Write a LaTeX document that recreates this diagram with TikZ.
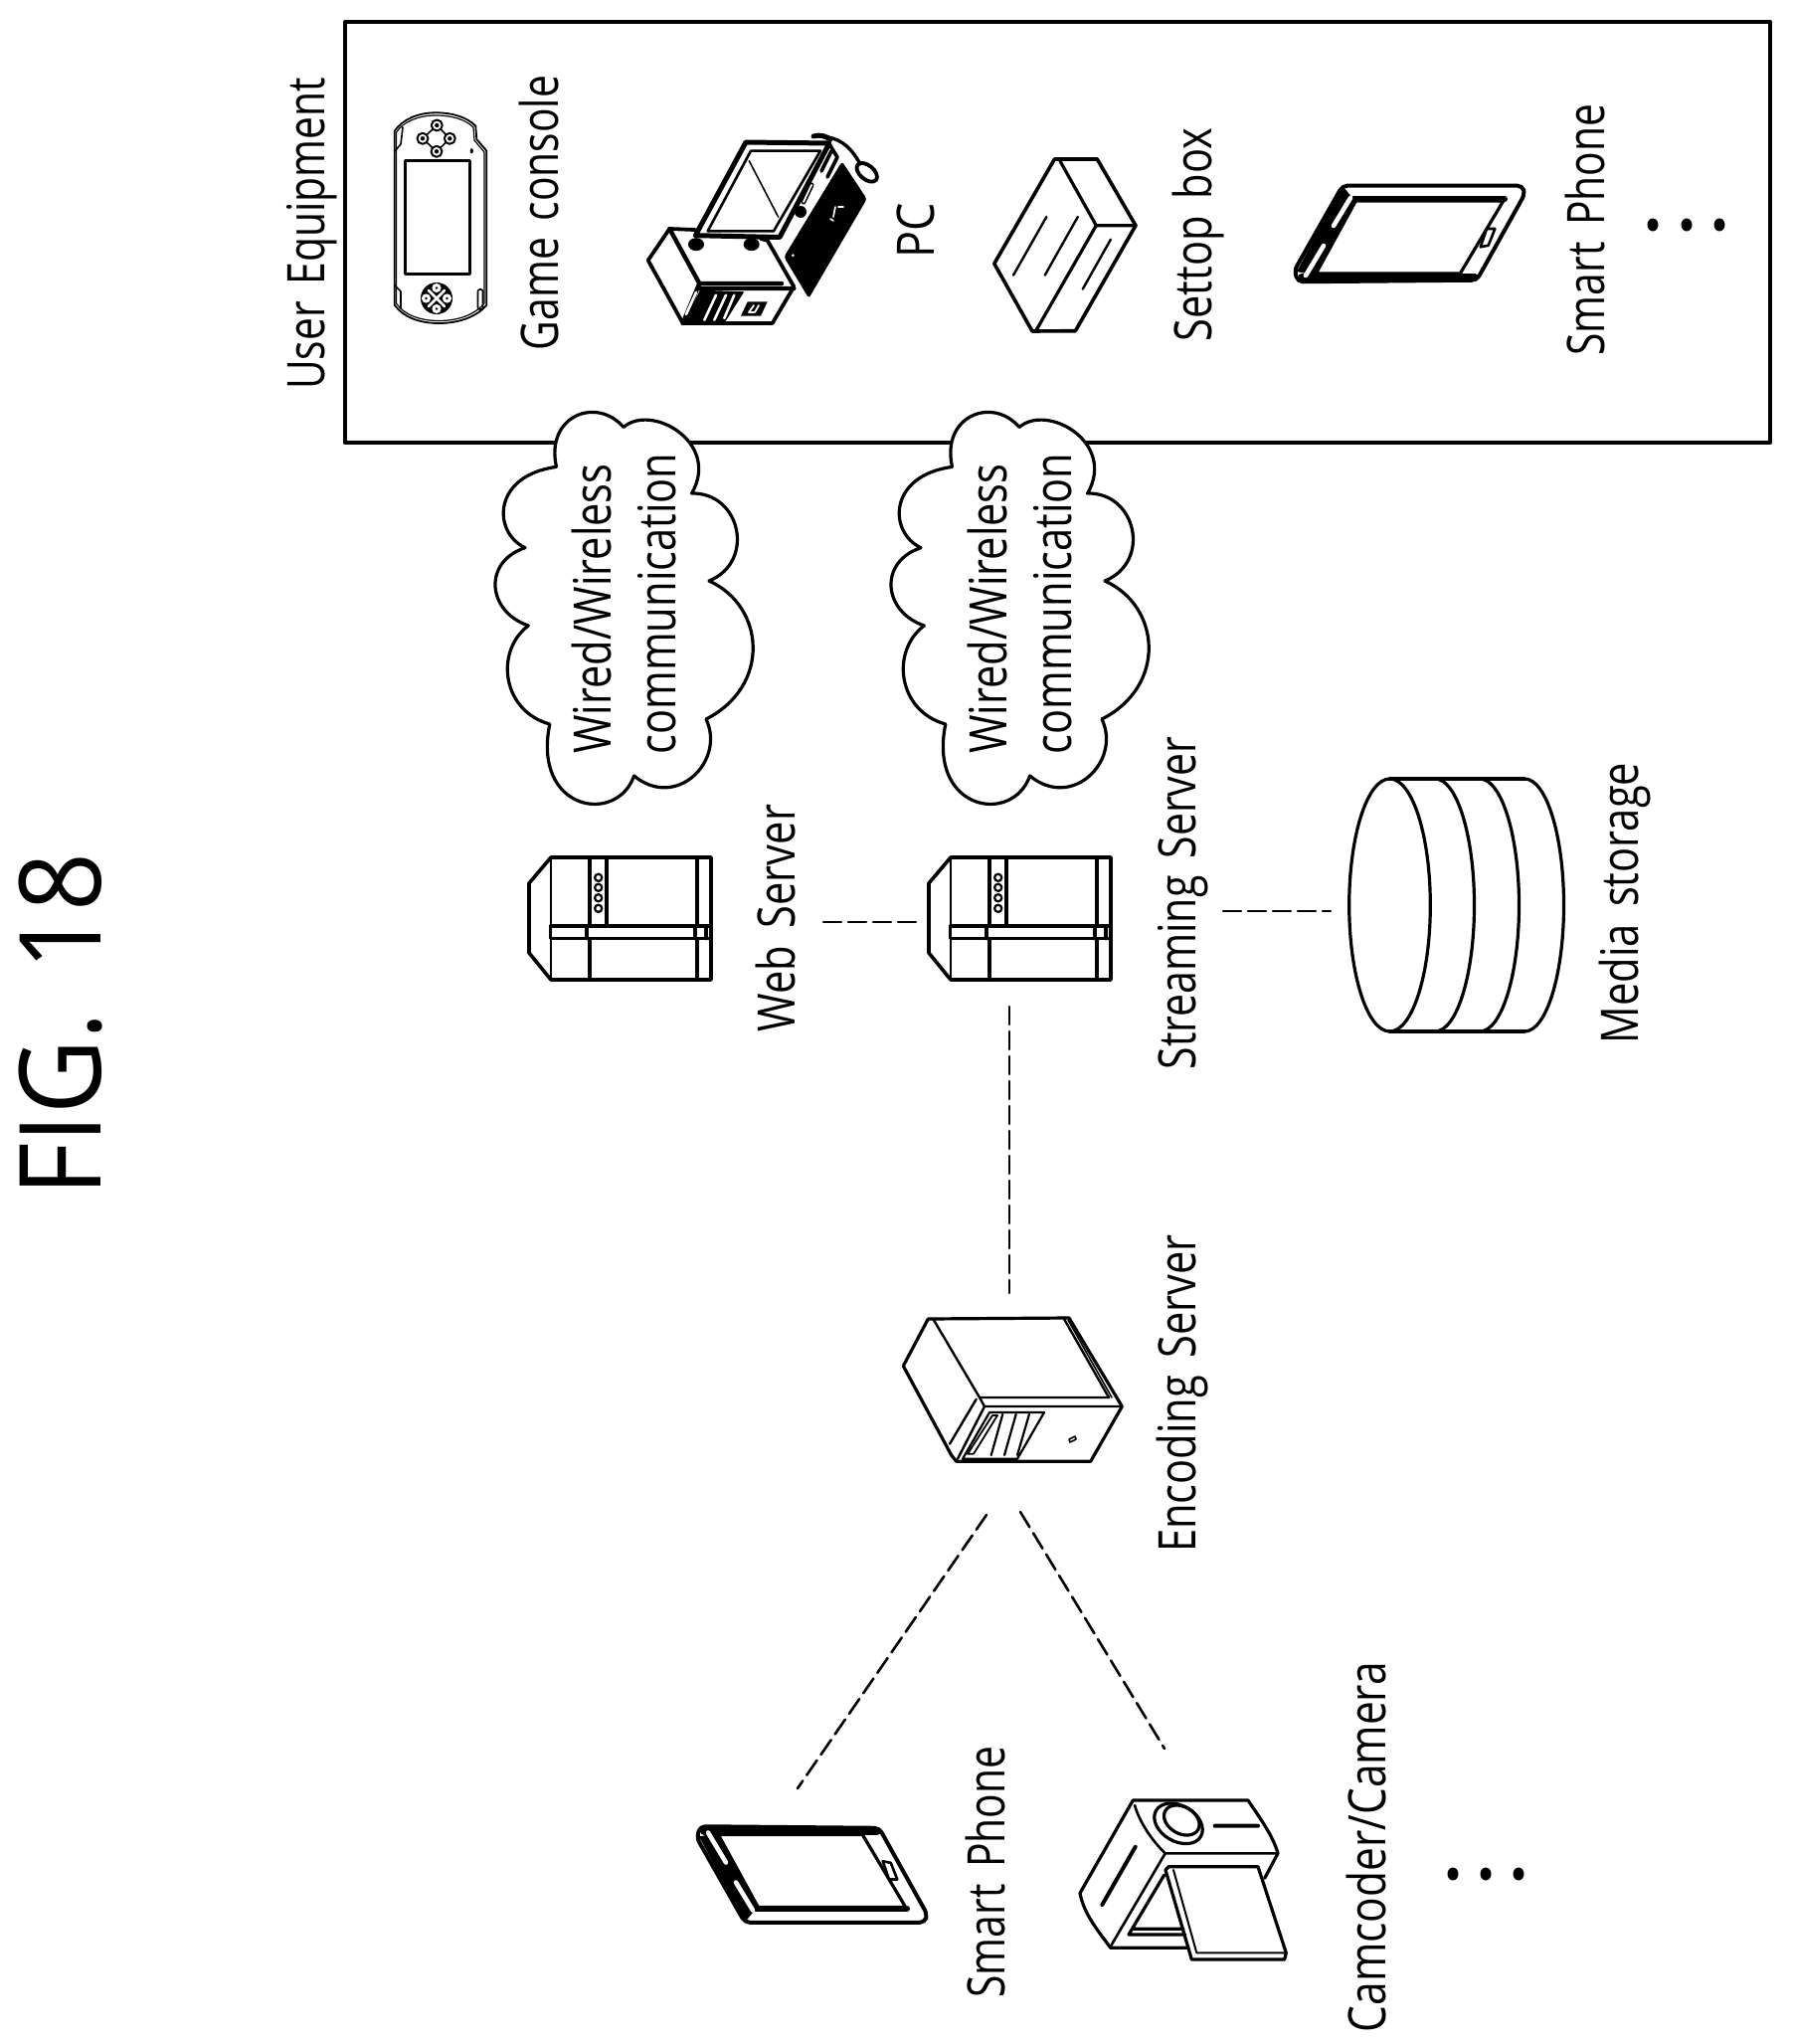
\documentclass[tikz,border=0pt]{standalone}
\usepackage{fontspec}
\setmainfont[FakeStretch=0.8,WordSpace=1.6]{Open Sans}
\usetikzlibrary{positioning}

\newcommand*{\servericon}{
\draw[icon,line width=3.6pt] (22,-65) -- (0,-39) -- (0,31) -- (22,58) -- (183,58) -- (183,-65) -- cycle;
\draw[thin line] (22,-65) -- (22,58);
\draw[icon,line width=4pt] (61,-65) -- (61,58) (169,-65) -- (169,58) (78,-65) -- (78,5);
\draw[icon,line width=3.6pt,fill=white] (21.5,4) rectangle (183,16.5);
\draw[icon,line width=3.6pt] (58,4) -- (58,16.5) (167,4) -- (167,16.5) (178,4) -- (178,16.5);
\foreach \cy in {-44.7,-34.7,-24.3,-13.7}
  \draw[thin line,line width=2.2pt] (69.7,\cy) circle [radius=3.6pt];
}
\newcommand*{\cloudicon}{
\draw[icon,fill=white] (559.5,469.4) .. controls (548,418) and (600,398) .. (627,429.5)
  .. controls (655,405) and (725,445) .. (695.6,496)
  .. controls (745,495) and (760,565) .. (713,584)
  .. controls (770,610) and (775,690) .. (710,723)
  .. controls (730,765) and (680,815) .. (637.6,780)
  .. controls (620,830) and (535,815) .. (552.8,728)
  .. controls (505,715) and (497,655) .. (531.3,629)
  .. controls (490,615) and (485,565) .. (528,550.7)
  .. controls (495,535) and (495,478) .. (559.5,469.4);
}
\newcommand*{\phoneicon}{
\fill (-67,-48) -- (-53.7,-32) -- (-93.7,42) -- (-113,38) -- cycle;
\draw[icon,line width=4pt,rounded corners=5pt] (-67,-48.3) -- (114,-48.3) -- (116.3,-40) -- (68,46.7) -- (-112,48.3) -- (-115.3,36.7) -- cycle;
\draw[icon] (-53.7,-33) -- (94.7,-33) -- (51.3,40) -- (-93.7,40) -- cycle;
\draw[heavy] (-56,-34.5) -- (96,-34.5);
\draw[heavy,line width=8pt] (-108,44) -- (66,44);
\draw[draw=white,line width=4.6pt] (-59,-36) -- (-76,-8) (-86,12) -- (-104,42);
\draw[icon,fill=white,line width=2.6pt] (78,-5) -- (86.3,-5) -- (79.7,11.7) -- (71.7,13.3) -- cycle;
}

\begin{document}
\begin{tikzpicture}[x=1pt,y=-1pt,line cap=round,line join=round]
\tikzstyle{every node}=[rotate=90,anchor=base,inner sep=0pt,font=\fontsize{52}{60}\selectfont]
\tikzstyle{icon}=[draw=black,line width=3.2pt]
\tikzstyle{heavy}=[draw=black,line width=6pt]
\tikzstyle{thin line}=[draw=black,line width=1.6pt]
\tikzstyle{link}=[draw=black,line width=2.6pt,dash pattern=on 18pt off 7pt]
\useasboundingbox (0,0) rectangle (1803,2055);

\node (title) at (101,1030) [xscale=1.13,font=\fontsize{114}{120}\selectfont] {FIG. 18};

\draw[icon,line width=4pt] (347,22) rectangle (1780,445);
\node (user)    at (326,235)  [xscale=.98] {User Equipment};
\node (game)    at (561,214)  [xscale=.98] {Game console};
\node (pc)      at (939,232)  [xscale=1.08] {PC};
\node (settop)  at (1218,236) {Settop box};
\node (phoneA)  at (1613,231) [xscale=.98] {Smart Phone};

\foreach \dx in {1662,1696,1729}
  \fill (\dx,226) circle [x radius=5.5pt,y radius=6.5pt];

\cloudicon
\begin{scope}[xshift=398pt]
\cloudicon
\end{scope}
\node (wiredA) at (614,612)  {Wired/Wireless};
\node (commA)  at (679,607)  {communication};
\node (wiredB) at (1012,612) {Wired/Wireless};
\node (commB)  at (1077,607) {communication};

% game console
\draw[thin line,line width=1.8pt] (396.7,131.7) .. controls (405,120) and (420,113.3) .. (438.3,113.3)
  .. controls (455,113.3) and (470,118) .. (478.3,126.7) -- (479.3,140) -- (489.3,151.7)
  -- (489.3,306.7) .. controls (480,318) and (462,325) .. (441.7,325)
  .. controls (420,325) and (405,318) .. (396.7,306.7) -- cycle;
\draw[thin line,line width=1.2pt] (398.5,133) .. controls (406,122) and (421,116) .. (438.3,116)
  .. controls (454,116) and (468,120) .. (476,128) -- (477,141) -- (487,153)
  -- (487,305) .. controls (478,316) and (461,322.5) .. (441.7,322.5)
  .. controls (421,322.5) and (406,316) .. (398.5,305) -- cycle;
\draw[thin line] (405,128) -- (403,145) -- (397,152) (397,287) -- (403,293) -- (403,310);
\draw[icon,line width=2.8pt] (407.3,161.7) rectangle (472.7,275.7);
\draw[thin line] (439.3,126) -- (452.3,139.3) -- (439,152.3) -- (425,139.3) -- cycle;
\foreach \bx/\by in {439.3/126,439/152.3,425/139.3,452.3/139.3}{
  \draw[thin line,line width=2pt,fill=white] (\bx,\by) circle [radius=5.5pt];
  \fill (\bx,\by) circle [radius=2.2pt];
}
\fill (474.3,151.7) circle [x radius=1.6pt,y radius=2.6pt];
\fill (439,300) circle [radius=16pt];
\foreach \px/\py in {439/289.5,439/310.5,428.5/300,449.5/300}{
  \fill[white] (\px,\py) circle [radius=4.6pt];
  \fill (\px,\py) circle [radius=1.4pt];
}
\draw[draw=white,line width=2.8pt] (431,292) -- (447,308) (447,292) -- (431,308);
\draw[thin line,rounded corners=2pt] (480.5,291) rectangle (485.5,311);

% pc
\draw[icon,line width=5pt] (750,143) -- (834,144) -- (784,238.5) -- (699.3,236.7) -- cycle;
\draw[icon,line width=2.6pt] (755,151.7) -- (825,151.7) -- (778,232.3) -- (711.7,232.3) -- cycle;
\draw[thin line] (753.3,161.7) -- (782.7,218.3);
\draw[icon,line width=3.8pt] (699,231) -- (673.3,230) -- (651.7,261.7) -- (686.7,325) -- (776.7,325) -- (798.3,288.3) -- (771.7,241.7) -- (765,240);
\draw[icon,line width=4.4pt] (673.3,230) -- (703.3,285) -- (786,285) (703.3,290) -- (798.3,290) (703.3,285) -- (686.7,325);
\fill (704,291.7) -- (748.3,293.3) -- (728.3,325) -- (686.7,325) -- cycle;
\draw[draw=white,line width=2.6pt] (720,296.7) -- (708.3,321.7) (730,296.7) -- (718.3,321.7) (738.3,296.7) -- (728.3,320) (700,294) -- (690,316);
\fill (751.7,303.3) -- (771.7,303.3) -- (765,317.7) -- (745,317.7) -- cycle;
\draw[draw=white,line width=1.8pt] (758,307) -- (753,314) -- (758,314) (763,307) -- (759,314);
\fill (700,245.7) circle [x radius=8pt,y radius=6.5pt];
\fill (755.7,245.7) circle [x radius=8pt,y radius=6.5pt];
\fill[rounded corners=3pt] (846.7,162.3) -- (871.7,200) -- (813.3,300) -- (788.3,258.3) -- cycle;
\fill[white] (797.3,256.7) circle [radius=1.5pt];
\draw[draw=white,line width=1.6pt] (843,208) -- (848,208) (840,208) -- (838,218) (835,220) -- (838,222);
\fill (805,213) circle [radius=6pt];
\draw[icon,line width=3.6pt] (834,145) -- (842,158) -- (832,178) (826,172) -- (836,152);
\draw[icon,line width=5pt] (816,186) -- (808,203);
\draw[draw=white,line width=1.8pt] (816,186) -- (808,203);
\draw[icon,line width=5pt] (818,137) .. controls (825,135) and (830,137) .. (835,140);
\draw[icon,line width=3.4pt] (832,138) .. controls (848,140) and (858,152) .. (865,165);
\begin{scope}[shift={(871.7,173.3)},rotate=-40]
\draw[icon,line width=3.8pt] (0,0) ellipse [x radius=12pt,y radius=7pt];
\end{scope}

% settop box
\draw[icon,line width=3.6pt] (1060.4,160) -- (1103.3,160) -- (1142,226.7) -- (1081.4,332.7) -- (1038,333) -- (999.8,265) -- cycle;
\draw[icon] (1066,162) -- (1102.3,226.7) -- (1142,226.7) (1102.3,226.7) -- (1042,332);
\draw[icon,line width=2.4pt] (1052.3,218) -- (1019,276.7) (1083.8,218) -- (1050.7,276.7) (1116.9,240.7) -- (1088.7,290.7);

% smart phone in the box
\begin{scope}[shift={(1417,235)}]
\phoneicon
\end{scope}

% servers
\node (web)    at (799,923)   {Web Server};
\node (stream) at (1202,908)  [xscale=.985] {Streaming Server};
\begin{scope}[shift={(532,927)}]
\servericon
\end{scope}
\begin{scope}[shift={(934,927)}]
\servericon
\end{scope}

% media storage
\draw[icon] (1397.5,910) ellipse [x radius=40.8pt,y radius=127pt];
\draw[icon] (1397.5,783) -- (1533,783) (1397.5,1037) -- (1533,1037);
\foreach \sx in {1443,1488,1533}
  \draw[icon] (\sx,783) arc [start angle=90,end angle=-90,x radius=39.5pt,y radius=127pt];
\node (media) at (1647,908) {Media storage};

% encoding server
\draw[icon] (908.3,1373.3) -- (933.3,1326) -- (1075,1325) -- (1128.3,1414) -- (1096.7,1469.3) -- (961.7,1469.3) -- (956.7,1463) -- cycle;
\draw[icon,line width=2.4pt] (938.3,1326) -- (985,1405) -- (1115,1405) -- (1070,1326);
\draw[thin line] (1074,1327) -- (1118,1405);
\draw[icon,line width=2.4pt] (985,1405) -- (990,1414) -- (1128.3,1414) (990,1414) -- (963,1466.7) (981.7,1406.7) -- (955,1451.7);
\draw[icon,line width=2.2pt] (995,1420) -- (1050,1420) -- (1023,1466.7) -- (968,1466.7) -- cycle;
\draw[icon,line width=2.2pt] (1008.3,1421.7) -- (996.7,1463) (1021.7,1421.7) -- (1010,1463) (1035,1421.7) -- (1023,1463);
\draw[icon,line width=1.8pt] (998,1423) -- (973,1461.7) -- (979,1461.7) -- (1003,1423) -- cycle;
\draw[thin line] (1075,1447) -- (1081,1444) -- (1082,1447) -- (1076,1450) -- cycle;
\node (encode) at (1202,1401) {Encoding Server};

% smart phone and camera
\begin{scope}[shift={(816,1884.5)},yscale=-1]
\phoneicon
\end{scope}
\node (phoneB) at (1010,1882) [xscale=.98] {Smart Phone};
\draw[icon] (1139.3,1810) -- (1255,1810) .. controls (1265,1825) and (1280,1845) .. (1285,1863.3) -- (1271.7,1888.3);
\draw[icon] (1139.3,1810) -- (1086,1903.3) .. controls (1090,1925) and (1105,1942) .. (1116.7,1958.3) -- (1196.7,1958.3);
\draw[icon,line width=2.6pt] (1141,1815) .. controls (1146,1832) and (1158,1850) .. (1171.7,1863.3) -- (1285,1863.3) (1171.7,1863.3) -- (1116.7,1957);
\begin{scope}[shift={(1185,1833.3)},rotate=-30]
\draw[icon] (0,0) ellipse [x radius=26pt,y radius=18pt];
\end{scope}
\begin{scope}[shift={(1188.3,1830)},rotate=-30]
\draw[icon] (0,0) ellipse [x radius=19pt,y radius=13.5pt];
\end{scope}
\draw[icon,line width=4pt] (1221.7,1835.7) -- (1265,1835.7) (1141.7,1856.7) -- (1108.3,1915);
\draw[icon,fill=white] (1175,1876.7) -- (1265,1876.7) -- (1293.3,1963.3) -- (1291.7,1970) -- (1198.3,1970) -- (1172,1880) -- cycle;
\draw[icon,line width=2pt] (1180,1880) -- (1203.3,1963.3) -- (1293.3,1963.3);
\draw[icon] (1170.7,1885) -- (1135,1945) -- (1191.7,1945) (1140,1939.3) -- (1190,1939.3);
\node (camera) at (1393,1857) [xscale=1.02] {Camcoder/Camera};

\foreach \dx in {1461,1494,1527}
  \fill (\dx,1884) circle [x radius=5.5pt,y radius=6.5pt];

% dashed links
\coordinate (webOut)     at (828,927);
\coordinate (streamIn)   at (922,927);
\coordinate (streamOut)  at (1230,916);
\coordinate (mediaIn)    at (1338,916);
\coordinate (streamDown) at (1015,1012);
\coordinate (encodeUp)   at (1015,1300);
\coordinate (encodeL)    at (992,1523);
\coordinate (phoneUp)    at (802,1798);
\coordinate (encodeR)    at (1026,1520);
\coordinate (cameraUp)   at (1171,1758);
\draw[link] (webOut) -- (streamIn);
\draw[link] (streamOut) -- (mediaIn);
\draw[link] (streamDown) -- (encodeUp);
\draw[link] (encodeL) -- (phoneUp);
\draw[link] (encodeR) -- (cameraUp);
\end{tikzpicture}
\end{document}
